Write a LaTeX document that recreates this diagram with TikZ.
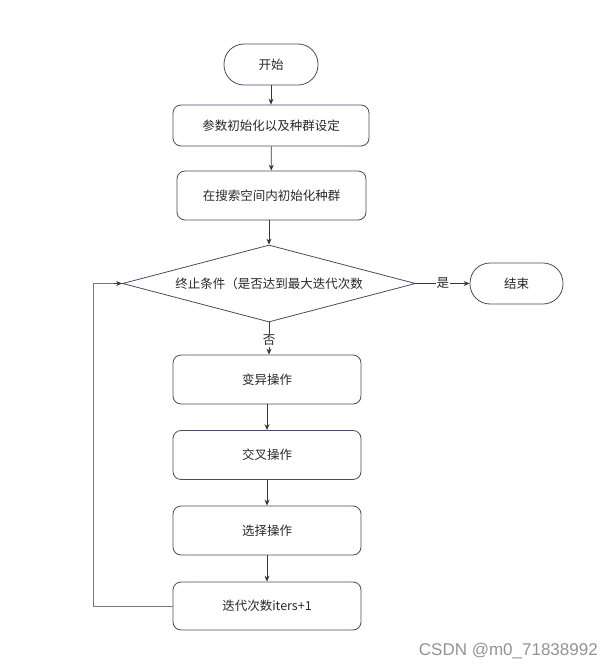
\documentclass[tikz,border=0pt]{standalone}
\usepackage{fontspec}
\newfontfamily\cjk{Noto Sans CJK SC}
\newfontfamily\wm{Liberation Sans}
\usetikzlibrary{shapes.geometric,arrows.meta}
\definecolor{bord}{RGB}{72,74,104}
\definecolor{conn}{RGB}{55,55,55}
\definecolor{loopc}{RGB}{120,120,120}
\definecolor{txt}{RGB}{40,40,40}
\tikzset{
  box/.style={draw=bord,line width=0.8pt,rounded corners=8pt,font=\cjk\fontsize{12.5}{14}\selectfont,text=txt,inner sep=0pt},
  term/.style={draw=bord,line width=0.8pt,rounded corners=20pt,font=\cjk\fontsize{12.5}{14}\selectfont,text=txt,inner sep=0pt,minimum width=94pt,minimum height=41pt},
  dec/.style={draw=bord,line width=0.8pt,diamond,aspect=3.8,font=\cjk\fontsize{12.5}{14}\selectfont,text=txt,inner sep=0pt,minimum width=293pt,minimum height=77pt},
  arr/.style={draw=conn,line width=0.8pt,-{Stealth[length=6pt,width=5pt]}},
  lbl/.style={fill=white,font=\cjk\fontsize{12.5}{14}\selectfont,text=txt,inner sep=1pt},
}
\begin{document}
\begin{tikzpicture}[x=1pt,y=-1pt]
\useasboundingbox (0,0) rectangle (612,669);
\node[term] (start) at (271,64.5) {开始};
\node[box,minimum width=196pt,minimum height=41pt] (b1) at (271,125.5) {参数初始化以及种群设定};
\node[box,minimum width=189pt,minimum height=49pt] (b2) at (271.5,195.5) {在搜索空间内初始化种群};
\node[dec] (dia) at (269,283.5) {终止条件（是否达到最大迭代次数};
\node[term,minimum width=93pt] (end) at (516.5,283.5) {结束};
\node[box,minimum width=188pt,minimum height=49pt] (b3) at (267,379.5) {变异操作};
\node[box,minimum width=188pt,minimum height=49pt] (b4) at (267,455) {交叉操作};
\node[box,minimum width=188pt,minimum height=49pt] (b5) at (267,530.5) {选择操作};
\node[box,minimum width=188pt,minimum height=48pt] (b6) at (267,606) {迭代次数iters+1};
\coordinate (lc) at (93,606);
\draw[arr] (start) -- (b1);
\draw[arr] (b1) -- (b2);
\draw[arr] (b2.south -| dia.north) -- (dia.north);
\draw[arr] (dia.east) -- node[lbl] {是} (end.west);
\draw[arr] (dia.south) -- node[lbl,pos=0.55] {否} (dia.south |- b3.north);
\draw[arr] (b3) -- (b4);
\draw[arr] (b4) -- (b5);
\draw[arr] (b5) -- (b6);
\draw[draw=loopc,line width=0.8pt] (b6.west) -- (lc) |- ([xshift=-8pt]dia.west);
\draw[arr] ([xshift=-8pt]dia.west) -- (dia.west);
\node[text=loopc!80,font=\wm\fontsize{17}{18}\selectfont,anchor=east,inner sep=0pt] (wmk) at (598,651) {CSDN @m0\_71838992};
\end{tikzpicture}
\end{document}
